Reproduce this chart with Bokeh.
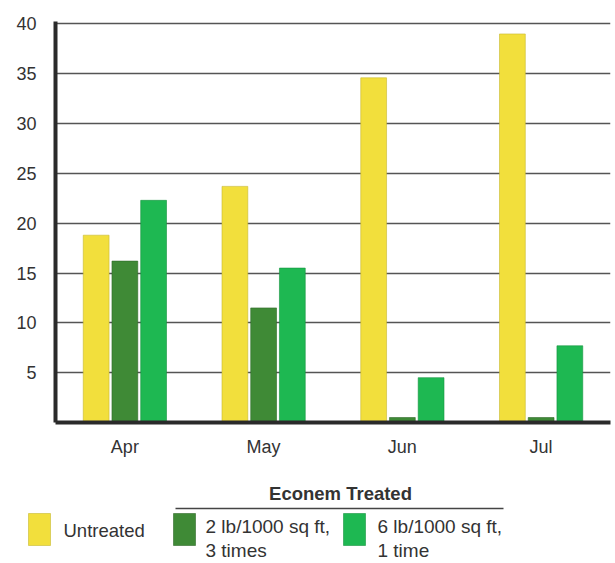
from bokeh.plotting import figure
from bokeh.models import ColumnDataSource, FactorRange, Range1d, FixedTicker
from bokeh.transform import dodge
from bokeh.layouts import column, row
from bokeh.embed import file_html
from bokeh.resources import INLINE
from bokeh.core.properties import value

months = ["Apr", "May", "Jun", "Jul"]
untreated = [18.8, 23.7, 34.6, 39.0]
two_lb = [16.2, 11.5, 0.5, 0.5]
six_lb = [22.3, 15.5, 4.5, 7.7]
y_ticks = [5, 10, 15, 20, 25, 30, 35, 40]
series_names = ["Untreated", "2 lb/1000 sq ft,\n3 times", "6 lb/1000 sq ft,\n1 time"]
group_title = "Econem Treated"
colors = ["#F2DF3C", "#3F8A36", "#1EB852"]
edges = ["#c8b830", "#2f6a28", "#169440"]
FONT = "Liberation Sans"

src = ColumnDataSource(dict(month=months, u=untreated, a=two_lb, b=six_lb))

p = figure(x_range=FactorRange(*months, range_padding=0.0), y_range=Range1d(0, 40.25),
           width=612, height=463, output_backend="svg", toolbar_location=None,
           min_border_left=55, min_border_right=2, min_border_top=21, min_border_bottom=41)
p.outline_line_color = None
p.background_fill_color = "white"
p.border_fill_color = "white"

w = 0.186
d = 0.207
p.vbar(x=dodge("month", -d, range=p.x_range), top="u", width=w, source=src,
       fill_color=colors[0], line_color=edges[0], line_width=0.6)
p.vbar(x=dodge("month", 0.0, range=p.x_range), top="a", width=w, source=src,
       fill_color=colors[1], line_color=edges[1], line_width=0.6)
p.vbar(x=dodge("month", d, range=p.x_range), top="b", width=w, source=src,
       fill_color=colors[2], line_color=edges[2], line_width=0.6)

p.xgrid.grid_line_color = None
p.ygrid.ticker = FixedTicker(ticks=y_ticks)
p.ygrid.grid_line_color = "#555555"
p.ygrid.grid_line_width = 1.6

p.yaxis.ticker = FixedTicker(ticks=y_ticks)
p.yaxis.axis_line_width = 4
p.yaxis.axis_line_color = "#2a2a2a"
p.yaxis.major_tick_line_color = None
p.yaxis.minor_tick_line_color = None
p.yaxis.major_label_text_font = FONT
p.yaxis.major_label_text_font_size = "18px"
p.yaxis.major_label_text_color = "#333333"
p.yaxis.major_label_standoff = 13

p.xaxis.axis_line_width = 4
p.xaxis.axis_line_color = "#2a2a2a"
p.xaxis.major_tick_line_color = None
p.xaxis.minor_tick_line_color = None
p.xaxis.major_label_text_font = FONT
p.xaxis.major_label_text_font_size = "18px"
p.xaxis.major_label_text_color = "#333333"
p.xaxis.major_label_standoff = 8

# legend figure: coordinates are page pixels (x right, y down)
lg = figure(x_range=Range1d(0, 612), y_range=Range1d(561, 463), width=612, height=98,
            output_backend="svg", toolbar_location=None,
            min_border_left=0, min_border_right=0, min_border_top=0, min_border_bottom=0)
lg.axis.visible = False
lg.grid.visible = False
lg.outline_line_color = None
lg.background_fill_color = "white"
lg.border_fill_color = "white"

sw_x = [39, 184, 354]
lg.rect(x=sw_x, y=[529, 529, 529], width=22, height=32, fill_color=colors,
        line_color=edges, line_width=0.6)
lg.text(x=[340], y=[493], text=[group_title], text_font=value(FONT), text_font_style="bold",
        text_font_size="18.5px", text_color="#333333", text_align="center", text_baseline="middle")
lg.segment(x0=[175], y0=[508], x1=[503], y1=[508], line_color="#444444", line_width=1.3)
lg.text(x=[63], y=[530], text=[series_names[0]], text_font=value(FONT),
        text_font_size="18.5px", text_color="#333333", text_align="left", text_baseline="middle")
lg.text(x=[205, 377], y=[515, 515], text=series_names[1:], text_font=value(FONT),
        text_font_size="19px", text_color="#333333", text_align="left", text_baseline="top",
        text_line_height=1.15)

layout = column(p, row(lg), spacing=0)
open("out.html", "w").write(file_html(layout, INLINE))
